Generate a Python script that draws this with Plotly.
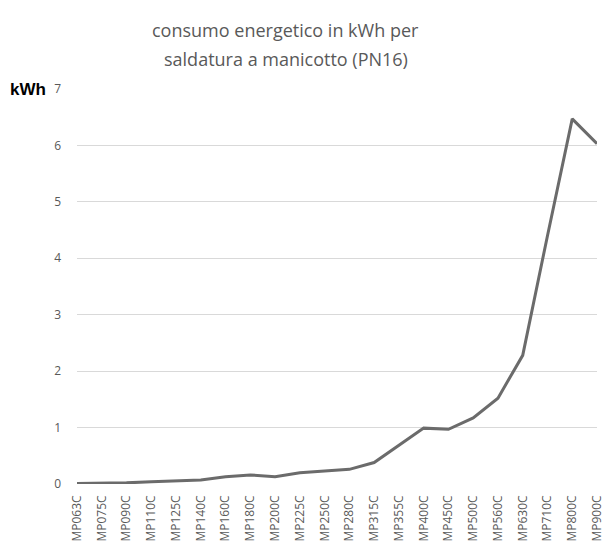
import plotly.graph_objects as go

# Electrofusion coupler sizes (PN16) and energy per weld in kWh
codes = ["MP063C", "MP075C", "MP090C", "MP110C", "MP125C", "MP140C", "MP160C",
         "MP180C", "MP200C", "MP225C", "MP250C", "MP280C", "MP315C", "MP355C",
         "MP400C", "MP450C", "MP500C", "MP560C", "MP630C", "MP710C", "MP800C",
         "MP900C"]
kwh = [0.01, 0.01, 0.02, 0.04, 0.06, 0.07, 0.13, 0.16, 0.13, 0.20, 0.23, 0.26,
       0.38, 0.69, 0.99, 0.97, 1.17, 1.52, 2.28, 4.40, 6.47, 6.03]
y_ticks = [0, 1, 2, 3, 4, 5, 6, 7]
title_lines = ["consumo energetico in kWh per", "saldatura a manicotto (PN16)"]

PLOT_L, PLOT_T, PLOT_W, PLOT_H = 77, 89, 528, 395


def px_x(x):
    return (x - PLOT_L) / PLOT_W


def px_y(y):
    return 1 - (y - PLOT_T) / PLOT_H


fig = go.Figure(go.Scatter(
    x=codes, y=kwh, mode="lines",
    line=dict(color="#6b6b6b", width=3),
    hoverinfo="x+y",
))

annotations = [
    dict(text=line, xref="paper", yref="paper", x=px_x(289), y=px_y(yc),
         xanchor="center", yanchor="middle", showarrow=False,
         font=dict(family="Open Sans, sans-serif", size=18, color="#595959"))
    for line, yc in zip(title_lines, [30, 59])
]
annotations.append(
    dict(text="<b>kWh</b>", xref="paper", yref="paper",
         x=px_x(7), y=px_y(89), xanchor="left", yanchor="middle",
         showarrow=False,
         font=dict(family="Liberation Sans, Arial, sans-serif", size=17,
                   color="#000000")))

fig.update_layout(
    width=606, height=547,
    margin=dict(l=PLOT_L, r=606 - PLOT_L - PLOT_W, t=PLOT_T,
                b=547 - PLOT_T - PLOT_H),
    paper_bgcolor="white", plot_bgcolor="white",
    showlegend=False,
    font=dict(family="Open Sans, sans-serif", color="#595959"),
    xaxis=dict(
        type="category", tickangle=-90, showgrid=False, showline=False,
        ticks="", ticklabelstandoff=8,
        tickfont=dict(size=12, color="#595959"),
    ),
    yaxis=dict(
        range=[0, 7], tickvals=y_ticks, showgrid=True, gridcolor="#d9d9d9",
        gridwidth=1, zeroline=False, showline=False, ticks="",
        ticklabelstandoff=15,
        tickfont=dict(size=12, color="#595959"),
    ),
    annotations=annotations,
)

fig.write_html("out.html")
